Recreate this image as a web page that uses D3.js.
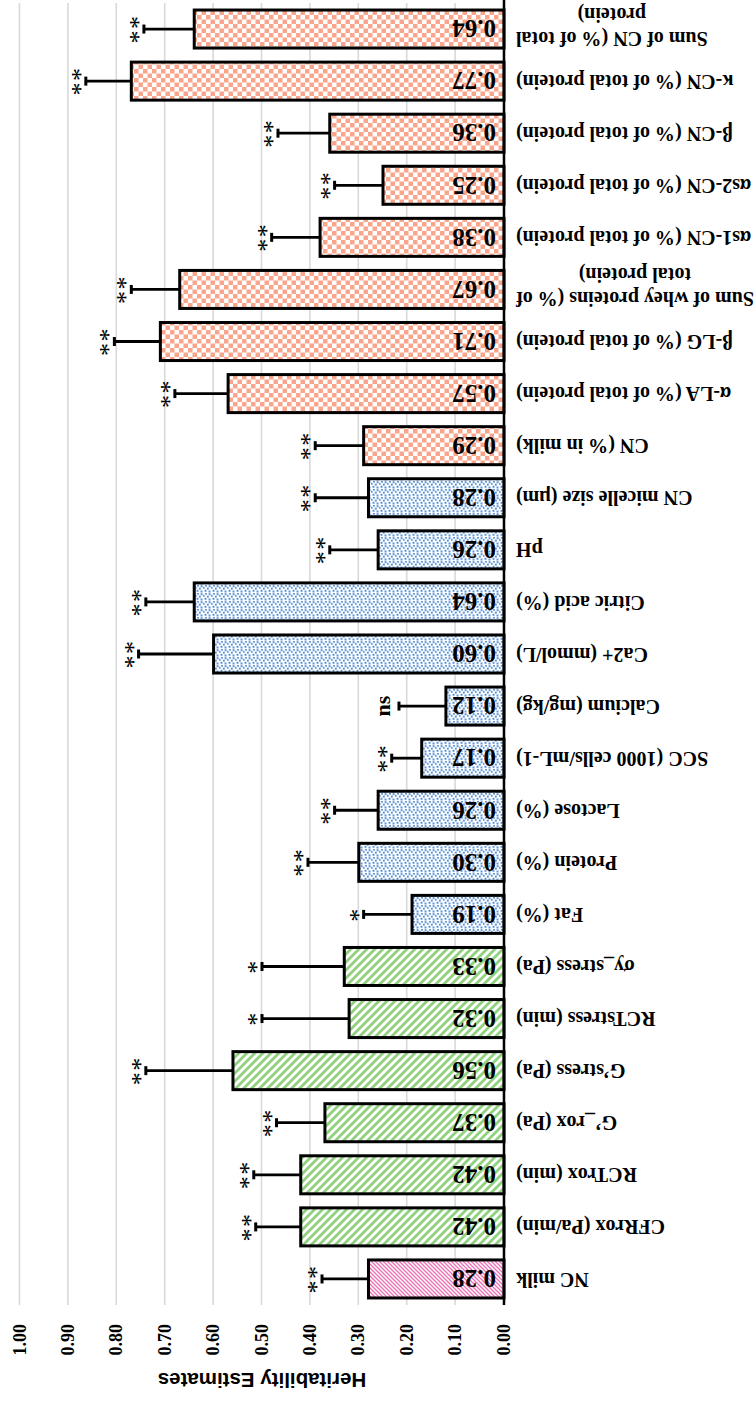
<!DOCTYPE html>
<html>
<head>
<meta charset="utf-8">
<script src="https://cdn.jsdelivr.net/npm/d3@7"></script>
<style>
  body { margin: 0; background: #fff; }
  svg { display: block; }
</style>
</head>
<body>
<svg id="chart"></svg>
<script>
// categories listed top -> bottom of the upright chart (the picture is shown upside down)
var categories = [
  "NC milk", "CFRrox (Pa/min)", "RCTrox (min)", "G\u2019_rox (Pa)", "G\u2019stress (Pa)",
  "RCTstress (min)", "\u03c3y_stress (Pa)", "Fat (%)", "Protein (%)", "Lactose (%)",
  "SCC (1000 cells/mL-1)", "Calcium (mg/kg)", "Ca2+ (mmol/L)", "Citric acid (%)", "pH",
  "CN micelle size (\u00b5m)", "CN (% in milk)", "\u03b1-LA (% of total protein)",
  "\u03b2-LG (% of total protein)", "Sum of whey proteins (% of\ntotal protein)",
  "\u03b1s1-CN (% of total protein)", "\u03b1s2-CN (% of total protein)",
  "\u03b2-CN (% of total protein)", "\u03ba-CN (% of total protein)",
  "Sum of CN (% of total\nprotein)"
];
var values = [0.28, 0.42, 0.42, 0.37, 0.56, 0.32, 0.33, 0.19, 0.30, 0.26, 0.17, 0.12, 0.60,
  0.64, 0.26, 0.28, 0.29, 0.57, 0.71, 0.67, 0.38, 0.25, 0.36, 0.77, 0.64];
var errors = [0.096, 0.093, 0.097, 0.10, 0.18, 0.18, 0.17, 0.10, 0.105, 0.09, 0.062, 0.097, 0.155,
  0.10, 0.10, 0.11, 0.10, 0.11, 0.095, 0.10, 0.10, 0.10, 0.107, 0.094, 0.104];
var signif = ["**", "**", "**", "**", "**", "*", "*", "*", "**", "**", "**", "ns", "**",
  "**", "**", "**", "**", "**", "**", "**", "**", "**", "**", "**", "**"];
var groups = ["milk", "rheo", "rheo", "rheo", "rheo", "rheo", "rheo", "comp", "comp", "comp",
  "comp", "comp", "comp", "comp", "comp", "comp", "prot", "prot", "prot", "prot", "prot",
  "prot", "prot", "prot", "prot"];
var tickValues = [0, 0.1, 0.2, 0.3, 0.4, 0.5, 0.6, 0.7, 0.8, 0.9, 1.0];
var axisTitle = "Heritability Estimates";

var W = 755, H = 1401;
var serif = "'Liberation Serif', 'Times New Roman', serif";

var svg = d3.select("#chart").attr("width", W).attr("height", H);

// patterns
var defs = svg.append("defs");
var pMilk = defs.append("pattern").attr("id", "p-milk").attr("patternUnits", "userSpaceOnUse")
  .attr("width", 4).attr("height", 4);
pMilk.append("rect").attr("width", 4).attr("height", 4).attr("fill", "#fff");
pMilk.append("path").attr("d", "M-1,-1 L5,5 M-1,3 L1,5 M3,-1 L5,1")
  .attr("stroke", "#ec6fb6").attr("stroke-width", 1.3);

var pRheo = defs.append("pattern").attr("id", "p-rheo").attr("patternUnits", "userSpaceOnUse")
  .attr("width", 8).attr("height", 8);
pRheo.append("rect").attr("width", 8).attr("height", 8).attr("fill", "#fff");
pRheo.append("path").attr("d", "M-2,10 L10,-2 M-2,2 L2,-2 M6,10 L10,6")
  .attr("stroke", "#8fd17c").attr("stroke-width", 2.8);

var pComp = defs.append("pattern").attr("id", "p-comp").attr("patternUnits", "userSpaceOnUse")
  .attr("width", 8).attr("height", 8);
pComp.append("rect").attr("width", 8).attr("height", 8).attr("fill", "#fff");
[[0.5, 0.5], [4.5, 1.2], [2.2, 3.4], [6.4, 4.2], [0.4, 5.8], [4.0, 6.4]].forEach(function(p) {
  pComp.append("rect").attr("x", p[0]).attr("y", p[1]).attr("width", 2).attr("height", 2)
    .attr("fill", "#5f96db");
});

var pProt = defs.append("pattern").attr("id", "p-prot").attr("patternUnits", "userSpaceOnUse")
  .attr("width", 9).attr("height", 9);
pProt.append("rect").attr("width", 9).attr("height", 9).attr("fill", "#fff");
pProt.append("rect").attr("width", 4.5).attr("height", 4.5).attr("fill", "#f9a58b");
pProt.append("rect").attr("x", 4.5).attr("y", 4.5).attr("width", 4.5).attr("height", 4.5).attr("fill", "#f9a58b");

var fills = { milk: "url(#p-milk)", rheo: "url(#p-rheo)", comp: "url(#p-comp)", prot: "url(#p-prot)" };

// whole chart drawn upright, then turned over
var root = svg.append("g").attr("transform", "rotate(180," + W / 2 + "," + H / 2 + ")");

var plotLeft = 251, plotRight = 735, plotTop = 96, plotBottom = 1398;

var x = d3.scaleLinear().domain([0, 1]).range([plotLeft, plotRight]);
var y = d3.scaleBand().domain(categories).range([plotTop, plotBottom])
  .paddingInner(0.27).paddingOuter(0.135);

// value axis + gridlines
var xAxis = root.append("g")
  .attr("transform", "translate(0," + plotTop + ")")
  .call(d3.axisTop(x).tickValues(tickValues).tickFormat(d3.format(".2f"))
    .tickSizeInner(-(plotBottom - plotTop)).tickSizeOuter(0));
xAxis.select(".domain").remove();
xAxis.selectAll(".tick line").attr("stroke", "#d9d9d9").attr("stroke-width", 1.6);
xAxis.selectAll(".tick text")
  .attr("x", 0).attr("y", 0).attr("dy", "0.34em")
  .attr("text-anchor", "end")
  .attr("transform", "translate(0,-19) rotate(90)")
  .style("font-family", serif).style("font-weight", "bold").style("font-size", "18px")
  .attr("fill", "#000");

root.append("text")
  .attr("x", (plotLeft + plotRight) / 2).attr("y", 28)
  .attr("text-anchor", "middle")
  .style("font-family", "'Liberation Sans', Arial, sans-serif")
  .style("font-weight", "bold").style("font-size", "20.5px")
  .text(axisTitle);

var data = categories.map(function(c, i) {
  return { cat: c, value: values[i], err: errors[i], sig: signif[i], group: groups[i] };
});

// bars
root.selectAll(".bar").data(data).enter().append("rect")
  .attr("class", "bar")
  .attr("x", x(0))
  .attr("y", function(d) { return y(d.cat); })
  .attr("width", function(d) { return x(d.value) - x(0); })
  .attr("height", y.bandwidth())
  .attr("fill", function(d) { return fills[d.group]; })
  .attr("stroke", "#000").attr("stroke-width", 3);

// error bars
var eb = root.selectAll(".err").data(data).enter().append("g").attr("class", "err");
eb.append("line")
  .attr("x1", function(d) { return x(d.value); })
  .attr("x2", function(d) { return x(d.value + d.err); })
  .attr("y1", function(d) { return y(d.cat) + y.bandwidth() / 2; })
  .attr("y2", function(d) { return y(d.cat) + y.bandwidth() / 2; })
  .attr("stroke", "#000").attr("stroke-width", 2.8);
eb.append("line")
  .attr("x1", function(d) { return x(d.value + d.err); })
  .attr("x2", function(d) { return x(d.value + d.err); })
  .attr("y1", function(d) { return y(d.cat) + y.bandwidth() / 2 - 4.5; })
  .attr("y2", function(d) { return y(d.cat) + y.bandwidth() / 2 + 4.5; })
  .attr("stroke", "#000").attr("stroke-width", 3);

// significance marks (rotated)
eb.append("text")
  .attr("transform", function(d) {
    var off = d.sig === "ns" ? 9 : -3;
    return "translate(" + (x(d.value + d.err) + off) + "," + (y(d.cat) + y.bandwidth() / 2) + ") rotate(90)";
  })
  .attr("text-anchor", "middle")
  .style("font-family", serif)
  .style("font-weight", function(d) { return d.sig === "ns" ? "bold" : "normal"; })
  .style("font-size", function(d) { return d.sig === "ns" ? "22px" : "26px"; })
  .style("letter-spacing", function(d) { return d.sig === "ns" ? "0px" : "1.5px"; })
  .text(function(d) { return d.sig; });

// value labels
root.selectAll(".val").data(data).enter().append("text")
  .attr("class", "val")
  .attr("x", x(0) + 8)
  .attr("y", function(d) { return y(d.cat) + y.bandwidth() / 2; })
  .attr("dy", "0.35em")
  .style("font-family", serif).style("font-weight", "bold").style("font-size", "25px")
  .text(function(d) { return d3.format(".2f")(d.value); });

// category axis
var yAxis = root.append("g")
  .attr("transform", "translate(" + plotLeft + ",0)")
  .call(d3.axisLeft(y).tickSize(0).tickPadding(12));
yAxis.select(".domain").remove();
yAxis.selectAll(".tick text")
  .style("font-family", serif).style("font-weight", "bold").style("font-size", "20px")
  .attr("fill", "#000")
  .each(function(d) {
    var lines = d.split("\n");
    if (lines.length < 2) return;
    var t = d3.select(this).text(null).attr("dy", null);
    var spans = lines.map(function(l, i) {
      return t.append("tspan").attr("y", (i - (lines.length - 1) / 2) * 24 + 2)
        .attr("dy", "0.35em").text(l);
    });
    var maxW = d3.max(spans, function(s) { return s.node().getComputedTextLength(); });
    t.attr("text-anchor", "middle");
    spans.forEach(function(s) { s.attr("x", -12 - maxW / 2); });
  });

// baseline
root.append("line")
  .attr("x1", plotLeft).attr("x2", plotLeft)
  .attr("y1", plotTop).attr("y2", H)
  .attr("stroke", "#000").attr("stroke-width", 2.5);
</script>
</body>
</html>
